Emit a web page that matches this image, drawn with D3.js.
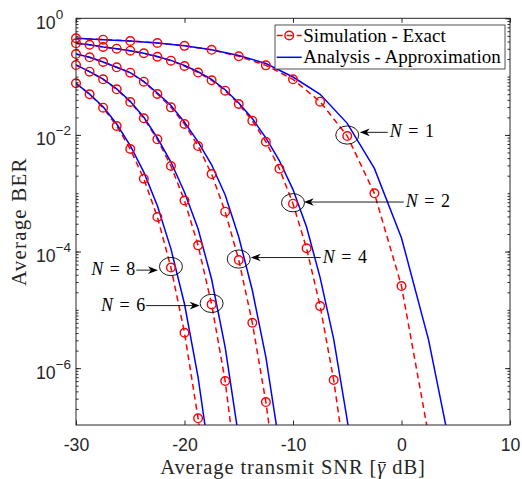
<!DOCTYPE html>
<html><head><meta charset="utf-8">
<script src="https://cdn.jsdelivr.net/npm/d3@7/dist/d3.min.js"></script>
<style>body{margin:0;background:#fff}svg{display:block}</style>
</head><body>
<svg id="c" width="522" height="479"></svg>
<script>
// ---------- data ----------
const snrCoarse = [-30,-27.5,-25,-22.5,-20,-17.5,-15,-12.5,-10,-7.5,-5,-2.5,0,2.5,5];
const snrFine = [-30,-28.75,-27.5,-26.25,-25,-23.75,-22.5,-21.25,-20,-18.75,-17.5,-16.25,-15,-13.75,-12.5,-11.25,-10,-8.75,-7.5,-6.25,-5,-3.75];

const simN1 = [0.454,0.430,0.408,0.377,0.337,0.288,0.223,0.156,0.0899,0.0371,9.57e-3,9.96e-4,2.56e-5,6.95e-8];
const anaN1 = [0.454,0.430,0.408,0.377,0.338,0.290,0.230,0.168,0.0984,0.0497,0.0158,2.67e-3,1.71e-4,3.03e-6,1.48e-8];

const simN2 = [0.3725,0.352,0.322,0.301,0.278,0.251,0.219,0.1874,0.152,0.1175,0.0864,0.0573,0.0339,0.01753,7.64e-3,2.63e-3,6.61e-4,1.135e-4,1.16e-5,6.25e-7,1.47e-8];
const anaN2 = [0.3725,0.352,0.322,0.301,0.278,0.252,0.221,0.190,0.155,0.121,0.0895,0.0595,0.0352,0.0191,8.91e-3,3.60e-3,1.156e-3,2.63e-4,3.58e-5,3.16e-6,1.29e-7,2.5e-9];

const simN4 = [0.244,0.2145,0.178,0.1445,0.1167,0.0818,0.0503,0.0297,0.01538,6.45e-3,2.13e-3,4.82e-4,7.15e-5,6.01e-6,2.62e-7,5.0e-9];
const anaN4 = [0.244,0.2145,0.178,0.1445,0.117,0.0825,0.0523,0.0319,0.01651,7.59e-3,3.08e-3,9.31e-4,1.78e-4,2.17e-5,1.55e-6,4.8e-8];

const simN6 = [0.158,0.1214,0.0899,0.0606,0.0367,0.01926,8.41e-3,2.93e-3,7.50e-4,1.277e-4,1.24e-5,6.01e-7,8.1e-9];
const anaN6 = [0.158,0.1214,0.0905,0.0615,0.0378,0.0201,8.91e-3,3.43e-3,1.04e-3,2.46e-4,3.35e-5,2.28e-6,6.4e-8];

const simN8 = [0.0767,0.0497,0.0293,0.01422,5.73e-3,1.774e-3,3.91e-4,5.32e-5,4.05e-6,1.38e-7,2.5e-9];
const anaN8 = [0.0767,0.0500,0.0305,0.01538,6.55e-3,2.30e-3,6.1e-4,1.11e-4,1.26e-5,7.0e-7,1.69e-8];

const xTicks = [-30,-20,-10,0,10];
const yTickExps = [0,-2,-4,-6];
const legendLabels = ["Simulation - Exact","Analysis - Approximation"];
const xLabel = "Average transmit SNR [\u03B3 dB]";
const yLabel = "Average BER";

// annotations: which simulated point is circled
const annotN = [1,2,4,8,6];
const annotIdx = [10,16,12,7,10];

// ---------- layout ----------
const L=76, R=510, T=18.3, B=425;
const x = d3.scaleLinear().domain([-30,10]).range([L,R]);
const yMin = 1.06e-7;
const y = d3.scaleLog().domain([yMin,1]).range([B,T]);
const svg = d3.select("#c");
const axisCol = "#262626";

const series = [
  {N:1, sx:snrCoarse, s:simN1, ax:snrCoarse, a:anaN1},
  {N:2, sx:snrFine, s:simN2, ax:snrFine, a:anaN2},
  {N:4, sx:snrFine, s:simN4, ax:snrFine, a:anaN4},
  {N:6, sx:snrFine, s:simN6, ax:snrFine, a:anaN6},
  {N:8, sx:snrFine, s:simN8, ax:snrFine, a:anaN8}
];

svg.append("defs").append("clipPath").attr("id","pc")
  .append("rect").attr("x",L).attr("y",T).attr("width",R-L).attr("height",B-T);

const line = d3.line().x(d=>x(d[0])).y(d=>y(d[1]));
const gPlot = svg.append("g").attr("clip-path","url(#pc)");

series.forEach(sr=>{
  const sd = sr.s.map((v,i)=>[sr.sx[i],v]);
  gPlot.append("path").attr("d",line(sd)).attr("fill","none")
    .attr("stroke","#ff0000").attr("stroke-width",1.5).attr("stroke-dasharray","6,4");
});
series.forEach(sr=>{
  const sd = sr.s.map((v,i)=>[sr.sx[i],v]).filter(d=>d[1]>=yMin);
  svg.append("g").selectAll("circle").data(sd).join("circle")
    .attr("cx",d=>x(d[0])).attr("cy",d=>y(d[1])).attr("r",4.3)
    .attr("fill","none").attr("stroke","#ff0000").attr("stroke-width",1.4);
});
series.forEach(sr=>{
  const ad = sr.a.map((v,i)=>[sr.ax[i],v]);
  gPlot.append("path").attr("d",line(ad)).attr("fill","none")
    .attr("stroke","#0000ff").attr("stroke-width",1.5);
});

// ---------- axes ----------
const minorTicks = [];
for (let e=-7;e<=0;e++) for (let d=1; d<=9; d++){ const v=d*Math.pow(10,e); if(v>=yMin && v<=1) minorTicks.push(v); }
const majorTicks = yTickExps.map(e=>Math.pow(10,e));

function styleAxis(g){ g.selectAll("path,line").attr("stroke",axisCol); g.select(".domain").remove(); }

svg.append("g").attr("transform",`translate(0,${B})`)
  .call(d3.axisBottom(x).tickValues(xTicks).tickSizeInner(-4.5).tickSizeOuter(0).tickPadding(13.5).tickFormat(d=>String(d)))
  .call(styleAxis)
  .call(g=>g.selectAll("text").attr("font-family","Liberation Sans, Arial, sans-serif").attr("font-size","17.7px").attr("fill",axisCol));
svg.append("g").attr("transform",`translate(0,${T})`)
  .call(d3.axisTop(x).tickValues(xTicks).tickSizeInner(-4.5).tickSizeOuter(0).tickFormat(""))
  .call(styleAxis);
[[L,-1],[R,1]].forEach(([px,dir])=>{
  svg.append("g").attr("transform",`translate(${px},0)`)
    .call((dir<0?d3.axisLeft(y):d3.axisRight(y)).tickValues(minorTicks).tickSizeInner(-2.5).tickSizeOuter(0).tickFormat(""))
    .call(styleAxis);
  svg.append("g").attr("transform",`translate(${px},0)`)
    .call((dir<0?d3.axisLeft(y):d3.axisRight(y)).tickValues(majorTicks).tickSizeInner(-5).tickSizeOuter(0).tickFormat(""))
    .call(styleAxis);
});
svg.append("rect").attr("x",L).attr("y",T).attr("width",R-L).attr("height",B-T)
  .attr("fill","none").attr("stroke",axisCol).attr("stroke-width",1);

// y tick labels
yTickExps.forEach(e=>{
  const yy = y(Math.pow(10,e));
  const t = svg.append("text").attr("x",36).attr("y",yy+10.5)
    .attr("font-family","Liberation Sans, Arial, sans-serif").attr("font-size","17.7px").attr("fill",axisCol);
  t.append("tspan").text("10");
  t.append("tspan").attr("dy",-10).attr("font-size","13.5px").text(e===0?"0":"\u2212"+Math.abs(e));
});

// axis labels
svg.append("text").attr("transform",`translate(26,${(T+B)/2}) rotate(-90)`)
  .attr("text-anchor","middle").attr("font-family","Liberation Serif, Times New Roman, serif")
  .attr("font-size","21px").attr("letter-spacing","1.2px").attr("fill",axisCol).text(yLabel);
const xl = svg.append("text").attr("x",(L+R)/2).attr("y",474).attr("text-anchor","middle")
  .attr("font-family","Liberation Serif, Times New Roman, serif").attr("font-size","20.5px")
  .attr("letter-spacing","0.9px").attr("fill",axisCol);
const gi = xLabel.indexOf("\u03B3");
xl.append("tspan").text(xLabel.slice(0,gi));
xl.append("tspan").attr("font-style","italic").text(xLabel.slice(gi,gi+1));
xl.append("tspan").text(xLabel.slice(gi+1));
{
  const ext = xl.node().getExtentOfChar(gi);
  svg.append("line").attr("x1",ext.x+1.5).attr("x2",ext.x+ext.width-0.5)
    .attr("y1",474-11.5).attr("y2",474-11.5).attr("stroke",axisCol).attr("stroke-width",1);
}

// ---------- legend ----------
const lg = svg.append("g");
lg.append("rect").attr("x",275).attr("y",25).attr("width",230).attr("height",44)
  .attr("fill","#fff").attr("stroke",axisCol).attr("stroke-width",0.8);
lg.append("line").attr("x1",276.7).attr("x2",301.7).attr("y1",35.5).attr("y2",35.5)
  .attr("stroke","#ff0000").attr("stroke-width",1.5).attr("stroke-dasharray","6,4");
lg.append("circle").attr("cx",289.2).attr("cy",35.5).attr("r",4.3).attr("fill","none")
  .attr("stroke","#ff0000").attr("stroke-width",1.4);
lg.append("line").attr("x1",276.7).attr("x2",301.7).attr("y1",57.3).attr("y2",57.3)
  .attr("stroke","#0000ff").attr("stroke-width",1.5);
legendLabels.forEach((t,i)=>{
  lg.append("text").attr("x",303.3).attr("y",i?63.3:41.7)
    .attr("font-family","Liberation Serif, Times New Roman, serif").attr("font-size","19px")
    .attr("fill","#000").text(t);
});

// ---------- annotations ----------
// offsets relative to circled point: [tip dx, tail dx, arrow dy]
const annotLayout = [[12.5,40.5,-3.7],[10.8,110.8,-1.7],[12,82,-2.5],[-13,-34.6,2.6],[-11.9,-65.5,1.2]];
const ann = svg.append("g");
annotN.forEach((n,k)=>{
  const sr = series.find(s=>s.N===n);
  const cx = x(sr.sx[annotIdx[k]]), cy = y(sr.s[annotIdx[k]]);
  ann.append("ellipse").attr("cx",cx).attr("cy",cy-1).attr("rx",11.5).attr("ry",9.1)
    .attr("fill","none").attr("stroke","#000").attr("stroke-width",0.9);
  const [tipDx,tailDx,ady] = annotLayout[k];
  const tx = cx+tipDx, tl = cx+tailDx, ay = cy+ady;
  const dir = tailDx>tipDx ? 1 : -1;
  ann.append("line").attr("x1",tl).attr("x2",tx+dir*6).attr("y1",ay).attr("y2",ay)
    .attr("stroke","#000").attr("stroke-width",0.9);
  ann.append("path").attr("d",`M${tx},${ay} L${tx+dir*10},${ay-3.8} L${tx+dir*7},${ay} L${tx+dir*10},${ay+3.8} Z`)
    .attr("fill","#000");
  const t = ann.append("text").attr("x",0).attr("y",ay+5)
    .attr("font-family","Liberation Serif, Times New Roman, serif").attr("font-size","18px").attr("fill","#000");
  t.append("tspan").attr("font-style","italic").text("N");
  t.append("tspan").attr("dx",6.5).text("=");
  t.append("tspan").attr("dx",6.5).text(String(n));
  if (dir>0) t.attr("x",tl+2);
  else { const bb = t.node().getBBox(); t.attr("x",tl-1-(bb.x+bb.width)); }
});
</script>
</body></html>
